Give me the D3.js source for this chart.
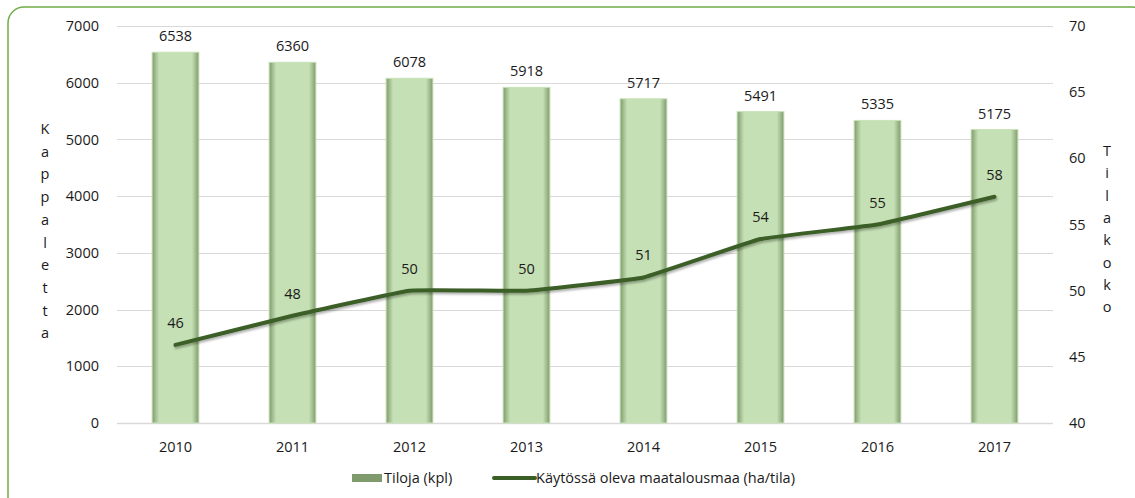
<!DOCTYPE html>
<html>
<head>
<meta charset="utf-8">
<script src="https://cdn.jsdelivr.net/npm/d3@7"></script>
<style>
  body { margin: 0; background: #fff; }
  text { font-family: "Open Sans", sans-serif; fill: #1a1a1a; }
</style>
</head>
<body>
<div id="chart"></div>
<script>
const width = 1135;
const height = 498;

const years = ["2010", "2011", "2012", "2013", "2014", "2015", "2016", "2017"];
const farms = [6538, 6360, 6078, 5918, 5717, 5491, 5335, 5175];
const farmSize = [45.9, 48.1, 50, 50, 51, 53.9, 55, 57.1];
const farmSizeLabels = ["46", "48", "50", "50", "51", "54", "55", "58"];
const leftTicks = [0, 1000, 2000, 3000, 4000, 5000, 6000, 7000];
const rightTicks = [40, 45, 50, 55, 60, 65, 70];

const plot = { left: 117, right: 1053, top: 26, bottom: 423 };
const fs = "14.5px";

const svg = d3.select("#chart")
    .append("svg")
    .attr("width", width)
    .attr("height", height);

const defs = svg.append("defs");

// bar inner shading: dark edges, light middle
const grad = defs.append("linearGradient")
    .attr("id", "barGrad")
    .attr("x1", "0").attr("x2", "1").attr("y1", "0").attr("y2", "0");
grad.append("stop").attr("offset", "0%").attr("stop-color", "#7f9a6c");
grad.append("stop").attr("offset", "15%").attr("stop-color", "#c5e0b4");
grad.append("stop").attr("offset", "85%").attr("stop-color", "#c5e0b4");
grad.append("stop").attr("offset", "100%").attr("stop-color", "#7f9a6c");

const shadow = defs.append("filter").attr("id", "lineShadow")
    .attr("x", "-5%").attr("y", "-20%").attr("width", "110%").attr("height", "140%");
shadow.append("feDropShadow")
    .attr("dx", 1).attr("dy", 2).attr("stdDeviation", 1.2)
    .attr("flood-color", "#000").attr("flood-opacity", 0.3);

// outer frame
svg.append("rect")
    .attr("x", 8).attr("y", 7)
    .attr("width", 1140).attr("height", 510)
    .attr("rx", 16)
    .attr("fill", "none")
    .attr("stroke", "#70ad47")
    .attr("stroke-width", 1.5);

const x = d3.scaleBand()
    .domain(years)
    .range([plot.left, plot.right])
    .paddingInner(0.6)
    .paddingOuter(0.3);

const yLeft = d3.scaleLinear().domain([0, 7000]).range([plot.bottom, plot.top]);
const yRight = d3.scaleLinear().domain([40, 70]).range([plot.bottom, plot.top]);

// gridlines
svg.append("g")
    .selectAll("line")
    .data(leftTicks)
    .enter().append("line")
    .attr("x1", plot.left)
    .attr("x2", plot.right)
    .attr("y1", d => Math.round(yLeft(d)) + 0.5)
    .attr("y2", d => Math.round(yLeft(d)) + 0.5)
    .attr("stroke", "#d9d9d9")
    .attr("stroke-width", d => d === 0 ? 1.5 : 1);

// left axis
const leftAxis = svg.append("g")
    .attr("transform", `translate(${plot.left - 18},0)`)
    .call(d3.axisLeft(yLeft).tickValues(leftTicks).tickFormat(d3.format("d")).tickSize(0).tickPadding(0));
leftAxis.select(".domain").remove();
leftAxis.selectAll("text").style("font-size", fs).style("font-family", "Open Sans");

// right axis
const rightAxis = svg.append("g")
    .attr("transform", `translate(${plot.right + 16},0)`)
    .call(d3.axisRight(yRight).tickValues(rightTicks).tickSize(0).tickPadding(0));
rightAxis.select(".domain").remove();
rightAxis.selectAll("text").style("font-size", fs).style("font-family", "Open Sans");

// bottom axis
const bottomAxis = svg.append("g")
    .attr("transform", `translate(0,${plot.bottom + 19})`)
    .call(d3.axisBottom(x).tickSize(0).tickPadding(0));
bottomAxis.select(".domain").remove();
bottomAxis.selectAll("text").style("font-size", fs).style("font-family", "Open Sans");

// bars
const bars = svg.append("g")
    .selectAll("g")
    .data(years)
    .enter().append("g");

bars.append("rect")
    .attr("x", d => x(d))
    .attr("y", (d, i) => yLeft(farms[i]))
    .attr("width", x.bandwidth())
    .attr("height", (d, i) => plot.bottom - yLeft(farms[i]))
    .attr("fill", "url(#barGrad)")
    .attr("stroke", "#c9e2b8")
    .attr("stroke-width", 1);

bars.append("text")
    .attr("x", d => x(d) + x.bandwidth() / 2)
    .attr("y", (d, i) => yLeft(farms[i]) - 11)
    .attr("text-anchor", "middle")
    .style("font-size", fs)
    .text((d, i) => farms[i]);

// line
const line = d3.line()
    .x((d, i) => x(years[i]) + x.bandwidth() / 2)
    .y(d => yRight(d))
    .curve(d3.curveCardinal.tension(0.75));

svg.append("path")
    .datum(farmSize)
    .attr("d", line)
    .attr("fill", "none")
    .attr("stroke", "#3b5e27")
    .attr("stroke-width", 4)
    .attr("stroke-linecap", "round")
    .attr("filter", "url(#lineShadow)");

svg.append("g")
    .selectAll("text")
    .data(farmSize)
    .enter().append("text")
    .attr("x", (d, i) => x(years[i]) + x.bandwidth() / 2)
    .attr("y", d => yRight(d) - 17)
    .attr("text-anchor", "middle")
    .style("font-size", fs)
    .text((d, i) => farmSizeLabels[i]);

// stacked axis titles
function stacked(label, cx, y0, step) {
    svg.append("g")
        .selectAll("text")
        .data(label.split(""))
        .enter().append("text")
        .attr("x", cx)
        .attr("y", (d, i) => y0 + i * step)
        .attr("text-anchor", "middle")
        .style("font-size", fs)
        .text(d => d);
}
stacked("Kappaletta", 45, 134, 22.7);
stacked("Tilakoko", 1107, 156, 22.3);

// legend
const legend = svg.append("g").attr("transform", "translate(0,478)");
legend.append("rect")
    .attr("x", 352).attr("y", -4)
    .attr("width", 30).attr("height", 8)
    .attr("fill", "#7f9a6c");
legend.append("text")
    .attr("x", 384).attr("y", 5)
    .style("font-size", fs)
    .text("Tiloja (kpl)");
legend.append("line")
    .attr("x1", 494).attr("x2", 535)
    .attr("y1", 0).attr("y2", 0)
    .attr("stroke", "#3b5e27")
    .attr("stroke-width", 4)
    .attr("stroke-linecap", "round");
legend.append("text")
    .attr("x", 536).attr("y", 5)
    .style("font-size", fs)
    .text("Käytössä oleva maatalousmaa (ha/tila)");
</script>
</body>
</html>
